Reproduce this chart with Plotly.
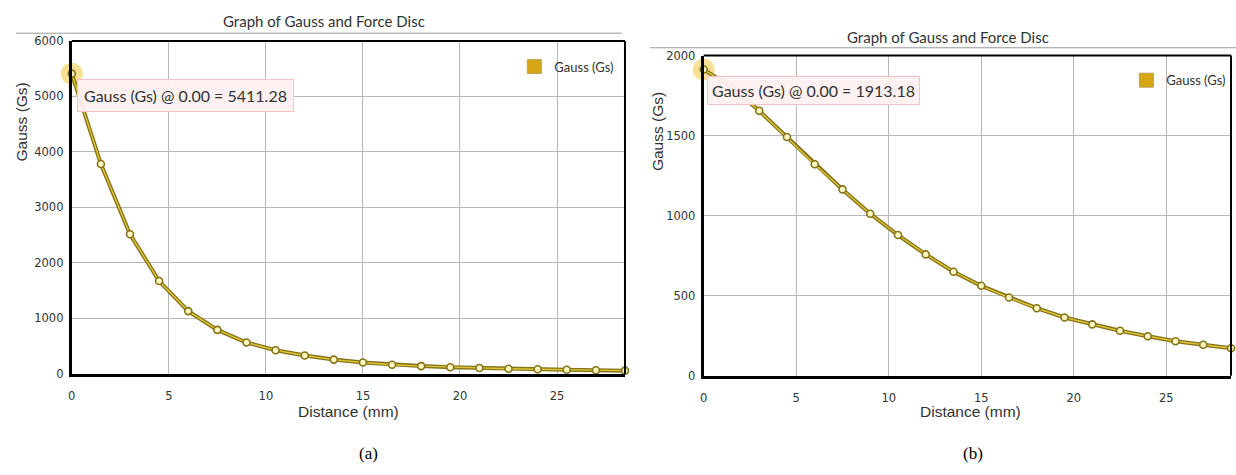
import plotly.graph_objects as go

# ---- data ----
distance_mm = [0, 1.5, 3, 4.5, 6, 7.5, 9, 10.5, 12, 13.5, 15, 16.5, 18, 19.5, 21, 22.5, 24, 25.5, 27, 28.5]
gauss_a = [5411.28, 3782, 2517, 1673, 1131, 793, 565, 425, 332, 257, 204, 165, 140, 120, 105, 92, 82, 74, 66, 58]
gauss_b = [1913.18, 1800, 1655, 1491, 1321, 1164, 1012, 879, 758, 650, 562, 489, 422, 364, 321, 281, 247, 216, 194, 172]
x_ticks = [0, 5, 10, 15, 20, 25]
y_ticks_a = [0, 1000, 2000, 3000, 4000, 5000, 6000]
y_ticks_b = [0, 500, 1000, 1500, 2000]
series_name = "Gauss (Gs)"
chart_title = "Graph of Gauss and Force Disc"
x_title = "Distance (mm)"
y_title = "Gauss (Gs)"

W, H = 1236, 475
def px(x): return x / W
def py(y): return 1 - y / H

LINE_DARK = "#857318"
LINE_LIGHT = "#dcc43a"
MARK_FILL = "#fff7c2"
SWATCH = "#d6a614"
TICK_FONT = dict(family="DejaVu Sans", size=11.5, color="#333333")

fig = go.Figure()

panels = [
    dict(xa="x", ya="y", data=gauss_a, legend="legend"),
    dict(xa="x2", ya="y2", data=gauss_b, legend="legend2"),
]

for p in panels:
    # hover halo on first point
    fig.add_trace(go.Scatter(x=[distance_mm[0]], y=[p["data"][0]], mode="markers",
                             marker=dict(size=22, color="rgba(240,200,70,0.55)", line=dict(width=0)),
                             xaxis=p["xa"], yaxis=p["ya"], showlegend=False, hoverinfo="skip",
                             cliponaxis=False))
    fig.add_trace(go.Scatter(x=distance_mm, y=p["data"], mode="lines",
                             line=dict(color=LINE_DARK, width=4),
                             xaxis=p["xa"], yaxis=p["ya"], showlegend=False, hoverinfo="skip"))
    fig.add_trace(go.Scatter(x=distance_mm, y=p["data"], mode="lines+markers",
                             line=dict(color=LINE_LIGHT, width=1.4),
                             marker=dict(size=7, color=MARK_FILL, line=dict(color=LINE_DARK, width=1.6)),
                             xaxis=p["xa"], yaxis=p["ya"], showlegend=False, cliponaxis=False,
                             name=series_name))
    # legend entry
    fig.add_trace(go.Scatter(x=[None], y=[None], mode="markers", name=series_name,
                             marker=dict(symbol="square", size=14, color=SWATCH,
                                         line=dict(color="#b8a45a", width=1)),
                             xaxis=p["xa"], yaxis=p["ya"], showlegend=True, legend=p["legend"]))

axis_common = dict(showgrid=True, gridcolor="#b8b8b8", gridwidth=1, zeroline=False,
                   showline=True, linecolor="black", linewidth=3, tickfont=TICK_FONT,
                   ticks="outside", tickcolor="rgba(0,0,0,0)")

fig.update_layout(
    width=W, height=H, margin=dict(l=0, r=0, t=0, b=0),
    paper_bgcolor="white", plot_bgcolor="white",
    xaxis=dict(domain=[px(68), px(623)], range=[0, 28.5], tickvals=x_ticks, anchor="y",
               ticklen=9, **axis_common),
    yaxis=dict(domain=[py(378), py(35)], range=[0, 6000], tickvals=y_ticks_a, anchor="x",
               ticklen=3, **axis_common),
    xaxis2=dict(domain=[px(702), px(1231)], range=[0, 28.5], tickvals=x_ticks, anchor="y2",
                ticklen=9, **axis_common),
    yaxis2=dict(domain=[py(380), py(50)], range=[0, 2000], tickvals=y_ticks_b, anchor="x2",
                ticklen=3, **axis_common),
    legend=dict(x=px(512), y=py(46), xanchor="left", yanchor="top", bgcolor="rgba(0,0,0,0)",
                font=dict(family="Lato", size=13, color="#333"), itemwidth=30),
    legend2=dict(x=px(1126), y=py(60), xanchor="left", yanchor="top", bgcolor="rgba(0,0,0,0)",
                 font=dict(family="Lato", size=13, color="#333"), itemwidth=30),
    showlegend=True,
)

shapes = []
# top/right borders
for xr, yr in [("x domain", "y domain"), ("x2 domain", "y2 domain")]:
    shapes.append(dict(type="line", xref=xr, yref=yr, x0=0, x1=1, y0=1, y1=1, line=dict(color="black", width=2)))
    shapes.append(dict(type="line", xref=xr, yref=yr, x0=1, x1=1, y0=0, y1=1, line=dict(color="black", width=2)))
# title underlines
shapes.append(dict(type="line", xref="paper", yref="paper", x0=px(12), x1=px(620), y0=py(27), y1=py(27),
                   line=dict(color="#9a9a9a", width=1)))
shapes.append(dict(type="line", xref="paper", yref="paper", x0=px(648), x1=px(1236), y0=py(42), y1=py(42),
                   line=dict(color="#9a9a9a", width=1)))
fig.update_layout(shapes=shapes)

def label(text, x, y, font, **kw):
    d = dict(text=text, x=px(x), y=py(y), xref="paper", yref="paper", showarrow=False,
             xanchor="center", yanchor="middle", font=font)
    d.update(kw)
    return d

ann = []
title_font = dict(family="Lato", size=15, color="#333333")
ann.append(label(chart_title, 321, 14, title_font))
ann.append(label(chart_title, 947, 31, title_font))
axt_font = dict(family="Liberation Sans", size=15.5, color="#333333")
ann.append(label(x_title, 346, 417, axt_font))
ann.append(label(x_title, 970, 417, axt_font))
ann.append(label(y_title, 18, 118, axt_font, textangle=-90))
ann.append(label(y_title, 655, 128, axt_font, textangle=-90))
# tooltips
tip_font = dict(family="Lato", size=16, color="#333333")
ann.append(label(f"{series_name} @ {distance_mm[0]:.2f} = {gauss_a[0]:.2f}", 73, 91, tip_font,
                 xanchor="left", bgcolor="rgba(253,240,240,0.95)", bordercolor="#f2c4c4",
                 borderwidth=1, borderpad=6))
ann.append(label(f"{series_name} @ {distance_mm[0]:.2f} = {gauss_b[0]:.2f}", 705, 86, tip_font,
                 xanchor="left", bgcolor="rgba(253,240,240,0.95)", bordercolor="#f2c4c4",
                 borderwidth=1, borderpad=4))
# subfigure labels
sub_font = dict(family="Liberation Serif", size=17, color="black")
ann.append(label("(a)", 366, 460, sub_font))
ann.append(label("(b)", 972, 460, sub_font))
fig.update_layout(annotations=ann)

fig.write_html("out.html")
